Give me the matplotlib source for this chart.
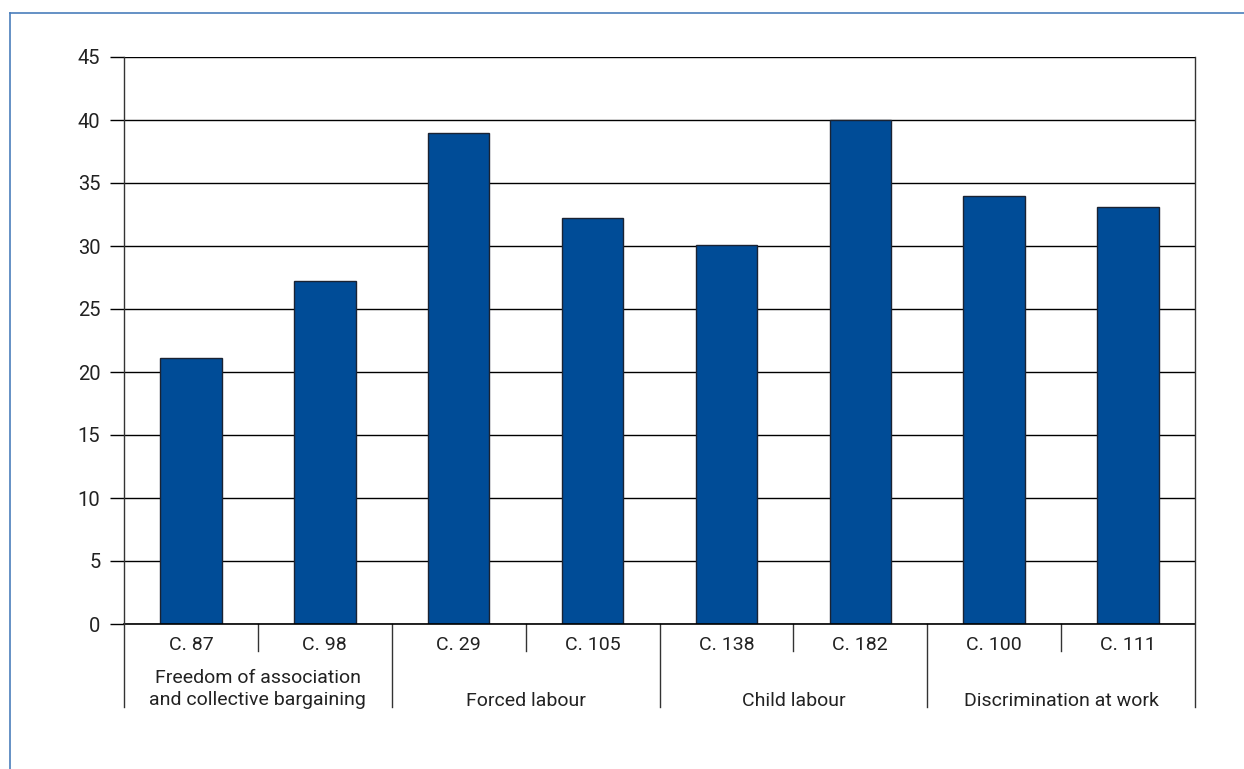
import matplotlib.pyplot as plt
from matplotlib.lines import Line2D

# Ratifications per convention
conventions = ['C. 87', 'C. 98', 'C. 29', 'C. 105', 'C. 138', 'C. 182', 'C. 100', 'C. 111']
ratifications = [21.1, 27.2, 39, 32.2, 30.1, 40, 34, 33.1]
groups = ['Freedom of association\nand collective bargaining', 'Forced labour',
          'Child labour', 'Discrimination at work']
y_ticks = [0, 5, 10, 15, 20, 25, 30, 35, 40, 45]

plt.rcParams['font.family'] = ['Roboto', 'DejaVu Sans']
text_color = '#222222'

fig = plt.figure(figsize=(12.44, 7.69), dpi=100)
ax = fig.add_axes([124 / 1244, 1 - 624 / 769, (1195 - 124) / 1244, (624 - 57) / 769])

x = range(len(conventions))
ax.bar(x, ratifications, width=0.46, color='#004c97', edgecolor='#1a2333',
       linewidth=1.0, zorder=3)

ax.set_xlim(-0.5, len(conventions) - 0.5)
ax.set_ylim(0, 45)
ax.set_yticks(y_ticks)
ax.set_yticklabels([str(t) for t in y_ticks], fontsize=14.5, color=text_color)
ax.tick_params(axis='y', length=10, width=1.0, pad=7, color='black')
ax.set_xticks([])
ax.yaxis.grid(True, color='black', linewidth=1.0, zorder=0)
ax.set_axisbelow(True)
for side in ['top', 'bottom', 'left', 'right']:
    ax.spines[side].set_visible(False)
ax.axhline(0, color='black', lw=1.2, clip_on=False, zorder=4)

# pixel offsets below the zero line, converted to axes fraction
h_px = 624 - 57
def below(px):
    return -px / h_px

trans = ax.get_xaxis_transform()

# vertical frame lines (extend under the plot for group labels)
for xb in [-0.5, len(conventions) - 0.5]:
    ax.plot([xb, xb], [1, below(83)], color='#333333', lw=1.0,
            transform=trans, clip_on=False, zorder=4)
for xb in [1.5, 3.5, 5.5]:
    ax.plot([xb, xb], [0, below(83)], color='#333333', lw=1.0,
            transform=trans, clip_on=False)
for xb in [0.5, 2.5, 4.5, 6.5]:
    ax.plot([xb, xb], [0, below(27)], color='#333333', lw=1.0,
            transform=trans, clip_on=False)

for i, name in enumerate(conventions):
    ax.text(i, below(21), name, transform=trans, ha='center', va='center',
            fontsize=14, color=text_color)

for g, name in enumerate(groups):
    xc = 2 * g + 0.5
    if '\n' in name:
        ax.text(xc, below(65), name, transform=trans, ha='center', va='center',
                fontsize=14, color=text_color, linespacing=1.25)
    else:
        ax.text(xc, below(77), name, transform=trans, ha='center', va='center',
                fontsize=14, color=text_color)

# outer box border
frame_color = '#4a7ebb'
fig.add_artist(Line2D([10 / 1244, 10 / 1244], [0, 1 - 13 / 769], color=frame_color, lw=1.2))
fig.add_artist(Line2D([10 / 1244, 1], [1 - 13 / 769, 1 - 13 / 769], color=frame_color, lw=1.2))

fig.savefig('out.png', dpi=100)
